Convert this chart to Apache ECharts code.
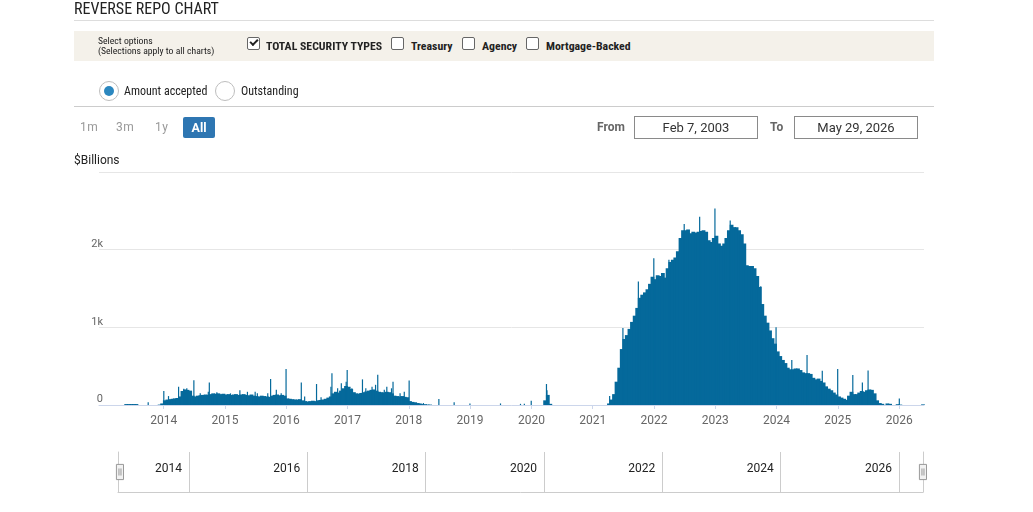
<!DOCTYPE html>
<html>
<head>
<meta charset="utf-8">
<title>Reverse Repo Chart</title>
<script src="https://cdn.jsdelivr.net/npm/echarts@6.0.0/dist/echarts.min.js"></script>
<style>
  html, body { margin: 0; padding: 0; background: #fff; }
  body { width: 1033px; height: 512px; position: relative; overflow: hidden;
         font-family: Roboto, "Liberation Sans", sans-serif; color: #222; }
  #chart { position: absolute; left: 0; top: 0; width: 1033px; height: 512px; }
  .abs { position: absolute; white-space: nowrap; z-index: 2; }
  .narrow { font-family: "Liberation Sans Narrow", "Roboto Condensed", "DejaVu Sans Condensed", sans-serif; }
  .rule { position: absolute; left: 74px; width: 860px; height: 1px; background: #d6d6d6; z-index: 2; }
  .cb { position: absolute; top: 37px; width: 11px; height: 11px; border: 1px solid #666;
        border-radius: 2px; background: #fff; z-index: 2; }
  .cb.on::after { content: ""; position: absolute; left: 2px; top: 1px; width: 6px; height: 3px;
        border-left: 2px solid #222; border-bottom: 2px solid #222; transform: rotate(-45deg); }
  .opt { top: 39px; font-size: 11.8px; line-height: 14px; font-weight: bold; color: #222; }
  .rd { position: absolute; top: 81px; width: 18px; height: 18px; border: 1px solid #bdbdbd;
        border-radius: 50%; background: #fff; z-index: 2; }
  .rd.on::after { content: ""; position: absolute; left: 4px; top: 4px; width: 10px; height: 10px;
        border-radius: 50%; background: #2b87bf; }
  .rlab { top: 84px; font-size: 12px; line-height: 14px; color: #222; }
  .rng { top: 120px; font-size: 12px; line-height: 14px; color: #999; letter-spacing: 0.5px; }
  .btn { left: 183px; top: 117px; width: 32px; height: 21px; line-height: 21px; text-align: center;
         background: #2e76b2; color: #fff; font-weight: bold; font-size: 12.5px; border-radius: 2px; }
  .lbl { top: 120px; font-size: 12px; line-height: 14px; font-weight: bold; color: #666; }
  .inp { top: 116px; width: 122px; height: 21px; line-height: 21px; border: 1px solid #8a8a8a;
         text-align: center; font-size: 13px; color: #333; background: #fff; }
</style>
</head>
<body>
<div id="chart"></div>

<div class="abs narrow" style="left:74px;top:0px;font-size:16px;line-height:18px;color:#222;">REVERSE REPO CHART</div>
<div class="rule" style="top:20px;background:#dddddd;"></div>
<div class="abs" style="left:74px;top:31px;width:860px;height:30px;background:#f4f1ea;z-index:1;"></div>
<div class="abs narrow" style="left:98px;top:36px;font-size:9.7px;line-height:10px;color:#222;">Select options<br>(Selections apply to all charts)</div>

<div class="cb on" style="left:247px;"></div>
<div class="abs narrow opt" style="left:266px;">TOTAL SECURITY TYPES</div>
<div class="cb" style="left:391px;"></div>
<div class="abs narrow opt" style="left:411px;">Treasury</div>
<div class="cb" style="left:462px;"></div>
<div class="abs narrow opt" style="left:482px;">Agency</div>
<div class="cb" style="left:526px;"></div>
<div class="abs narrow opt" style="left:546px;">Mortgage-Backed</div>

<div class="rd on" style="left:99px;"></div>
<div class="abs narrow rlab" style="left:124px;">Amount accepted</div>
<div class="rd" style="left:215px;"></div>
<div class="abs narrow rlab" style="left:241px;">Outstanding</div>
<div class="rule" style="top:106px;background:#cccccc;"></div>

<div class="abs rng" style="left:80px;">1m</div>
<div class="abs rng" style="left:116px;">3m</div>
<div class="abs rng" style="left:155px;">1y</div>
<div class="abs btn">All</div>
<div class="abs lbl" style="left:597px;">From</div>
<div class="abs inp" style="left:634px;">Feb 7, 2003</div>
<div class="abs lbl" style="left:770px;">To</div>
<div class="abs inp" style="left:794px;">May 29, 2026</div>
<div class="abs" style="left:74px;top:153px;font-size:12px;line-height:14px;color:#222;">$Billions</div>

<script>
// half-month levels ($B), two values per month (1st-15th, 16th-end)
const years = [2013, 2014, 2015, 2016, 2017, 2018, 2019, 2020, 2021, 2022, 2023, 2024, 2025, 2026];
const yr2013 = [0, 0, 0, 0, 0, 0, 0, 0, 0, 12, 12, 12, 12, 12, 0, 0, 0, 0, 0, 0, 0, 0, 5, 20];
const yr2014 = [60, 70, 75, 80, 85, 90, 110, 180, 200, 195, 185, 120, 110, 120, 125, 130, 135, 130, 140, 150, 145, 150, 140, 145];
const yr2015 = [135, 140, 130, 135, 140, 130, 135, 140, 130, 125, 135, 120, 115, 110, 120, 115, 110, 105, 120, 130, 135, 125, 130, 120];
const yr2016 = [85, 80, 75, 70, 70, 75, 60, 50, 45, 50, 55, 50, 60, 65, 70, 80, 95, 110, 150, 170, 160, 185, 215, 245];
const yr2017 = [235, 205, 165, 150, 145, 155, 165, 175, 185, 195, 200, 185, 170, 165, 160, 170, 165, 150, 120, 115, 110, 115, 105, 100];
const yr2018 = [50, 40, 35, 25, 20, 12, 10, 6, 5, 0, 0, 0, 0, 0, 0, 0, 0, 0, 0, 0, 0, 0, 0, 0];
const yr2019 = [0, 0, 0, 0, 0, 0, 0, 0, 0, 0, 0, 0, 0, 0, 0, 0, 0, 0, 0, 0, 0, 0, 0, 0];
const yr2020 = [0, 0, 0, 0, 0, 60, 130, 15, 0, 0, 0, 0, 0, 0, 0, 0, 0, 0, 0, 0, 0, 0, 0, 0];
const yr2021 = [0, 0, 0, 0, 0, 0, 20, 70, 140, 300, 480, 720, 850, 900, 980, 1070, 1150, 1250, 1380, 1420, 1450, 1490, 1560, 1650];
const yr2022 = [1620, 1670, 1660, 1700, 1640, 1760, 1840, 1870, 1900, 1980, 2150, 2250, 2250, 2260, 2210, 2230, 2220, 2230, 2240, 2250, 2230, 2120, 2100, 2150];
const yr2023 = [2180, 2080, 2050, 2080, 2150, 2250, 2320, 2290, 2290, 2250, 2200, 2080, 1800, 1790, 1790, 1760, 1660, 1520, 1300, 1150, 1060, 960, 860, 790];
const yr2024 = [690, 630, 580, 540, 480, 460, 460, 470, 470, 450, 420, 410, 410, 400, 350, 330, 340, 310, 290, 240, 210, 190, 160, 135];
const yr2025 = [110, 95, 80, 65, 120, 170, 140, 140, 160, 180, 170, 190, 200, 195, 150, 60, 25, 15, 0, 20, 15, 0, 0, 10];
const yr2026 = [5, 0, 0, 0, 0, 0, 0, 0, 0, 8];
const levels = [yr2013, yr2014, yr2015, yr2016, yr2017, yr2018, yr2019, yr2020, yr2021, yr2022, yr2023, yr2024, yr2025, yr2026];

// single-day peaks (quarter ends and other visible spikes)
const spikeDates = [
  '2013-10-01', '2014-01-02', '2014-01-30', '2014-03-31', '2014-05-01', '2014-05-19',
  '2014-06-30', '2014-08-07', '2014-09-24', '2014-09-30', '2014-11-14',
  '2015-02-03', '2015-03-31', '2015-05-15', '2015-06-30', '2015-07-13', '2015-09-13',
  '2015-09-30', '2015-11-03', '2015-12-02', '2015-12-31',
  '2016-03-31', '2016-04-20', '2016-06-30', '2016-07-27', '2016-09-24', '2016-09-30',
  '2016-11-03', '2016-11-25', '2016-12-24', '2016-12-30',
  '2017-01-27', '2017-03-31', '2017-04-20', '2017-05-27', '2017-06-17', '2017-06-30',
  '2017-08-08', '2017-08-23', '2017-09-20', '2017-09-29', '2017-11-10', '2017-12-05', '2018-01-03',
  '2018-03-29', '2018-06-29', '2018-09-28', '2018-12-31',
  '2019-07-01', '2019-10-28', '2019-11-20', '2019-12-31',
  '2020-03-31', '2020-04-03',
  '2021-04-12', '2021-06-30', '2021-09-30', '2021-12-31',
  '2022-03-31', '2022-06-30', '2022-09-30', '2022-12-30',
  '2023-03-31', '2023-09-29', '2023-12-29',
  '2024-04-01', '2024-07-01', '2024-09-30', '2024-12-31',
  '2025-03-31', '2025-05-27', '2025-06-30', '2026-01-02'
];
const spikeValues = [
  35, 180, 115, 235, 210, 215,
  320, 150, 170, 290, 165,
  150, 190, 170, 170, 150, 150,
  335, 195, 150, 465,
  290, 110, 270, 100, 235, 410,
  215, 280, 300, 450,
  215, 330, 215, 235, 260, 390,
  195, 235, 215, 300, 150, 170, 315,
  25, 77, 35, 20,
  20, 15, 15, 55,
  270, 190,
  115, 990, 1590, 1890,
  1870, 2330, 2425, 2530,
  2375, 1530, 1000,
  580, 645, 440, 465,
  385, 290, 445, 85
];

const yearTicks = [2014, 2015, 2016, 2017, 2018, 2019, 2020, 2021, 2022, 2023, 2024, 2025, 2026];
const navTicks = [2014, 2016, 2018, 2020, 2022, 2024, 2026];
const yTicks = ['0', '1k', '2k', ''];
const mainRange = ['2012-12-12', '2026-05-29'];
const navRange = ['2012-10-20', '2026-05-29'];

const barColor = '#05699b';

// date string -> fractional year, so the x axis can be a plain value axis
function decYear(s) {
  const p = s.split('-').map(Number);
  const t0 = Date.UTC(p[0], 0, 1);
  const t1 = Date.UTC(p[0] + 1, 0, 1);
  return p[0] + (Date.UTC(p[0], p[1] - 1, p[2]) - t0) / (t1 - t0);
}

const levelData = [];
years.forEach(function (y, i) {
  levels[i].forEach(function (v, k) {
    const m = Math.floor(k / 2) + 1;
    const d = k % 2 ? '23' : '08';
    levelData.push([decYear(y + '-' + m + '-' + d), v]);
  });
});
const spikeData = spikeDates.map(function (d, i) { return [decYear(d), spikeValues[i]]; });

const yearLabel = function (v) { return String(Math.round(v)); };

const chart = echarts.init(document.getElementById('chart'));

const mainX = {
  type: 'value',
  gridIndex: 0,
  min: decYear(mainRange[0]),
  max: decYear(mainRange[1]),
  axisLine: { lineStyle: { color: '#ccd6eb' } },
  axisTick: { show: true, length: 4, lineStyle: { color: '#ccd6eb' }, customValues: yearTicks },
  axisLabel: {
    customValues: yearTicks,
    formatter: yearLabel,
    color: '#666',
    fontSize: 12,
    fontFamily: 'Roboto',
    margin: 10
  },
  splitLine: { show: false }
};

const option = {
  animation: false,
  grid: [
    { left: 99, right: 109, top: 172, bottom: 107 },
    { left: 118, width: 805, top: 452, height: 40 }
  ],
  xAxis: [
    mainX,
    {
      type: 'value',
      gridIndex: 1,
      min: decYear(navRange[0]),
      max: decYear(navRange[1]),
      axisLine: { lineStyle: { color: '#cccccc' } },
      axisTick: { show: false, customValues: navTicks },
      axisLabel: {
        customValues: navTicks,
        formatter: yearLabel,
        inside: true,
        margin: 23,
        align: 'right',
        verticalAlign: 'middle',
        padding: [0, 7, 0, 0],
        color: '#222',
        fontSize: 12,
        fontFamily: 'Roboto'
      },
      splitLine: { show: true, lineStyle: { color: '#cccccc' } }
    },
    Object.assign({}, mainX, { show: false })
  ],
  yAxis: [
    {
      type: 'value',
      gridIndex: 0,
      min: 0,
      max: 3000,
      interval: 1000,
      axisLine: { show: false },
      axisTick: { show: false },
      splitLine: { lineStyle: { color: '#e6e6e6' } },
      axisLabel: {
        formatter: function (v) { return yTicks[v / 1000]; },
        color: '#666',
        fontSize: 11,
        fontFamily: 'Roboto',
        margin: -4,
        verticalAlign: 'bottom',
        padding: 0
      }
    },
    {
      type: 'value', gridIndex: 1, min: 0, max: 1, position: 'left',
      axisLine: { show: true, lineStyle: { color: '#cccccc' } },
      axisTick: { show: false }, axisLabel: { show: false }, splitLine: { show: false }
    },
    {
      type: 'value', gridIndex: 1, min: 0, max: 1, position: 'right',
      axisLine: { show: true, lineStyle: { color: '#cccccc' } },
      axisTick: { show: false }, axisLabel: { show: false }, splitLine: { show: false }
    }
  ],
  dataZoom: [{
    type: 'slider',
    xAxisIndex: [0, 2],
    filterMode: 'none',
    start: 0,
    end: 100,
    left: 118,
    width: 805,
    top: 452,
    height: 40,
    showDataShadow: false,
    showDetail: false,
    brushSelect: false,
    backgroundColor: 'rgba(0,0,0,0)',
    borderColor: 'rgba(0,0,0,0)',
    fillerColor: 'rgba(0,0,0,0)',
    dataBackground: { lineStyle: { opacity: 0 }, areaStyle: { opacity: 0 } },
    selectedDataBackground: { lineStyle: { opacity: 0 }, areaStyle: { opacity: 0 } },
    handleIcon: 'path://M0,0h7v15h-7zM2.5,4v7M4.5,4v7',
    handleSize: '38%',
    handleStyle: { color: '#f2f2f2', borderColor: '#999999', borderWidth: 1 },
    moveHandleSize: 0,
    moveHandleStyle: { opacity: 0 }
  }],
  series: [
    {
      name: 'Amount accepted',
      type: 'bar',
      xAxisIndex: 0,
      yAxisIndex: 0,
      data: levelData,
      barWidth: 3.8,
      itemStyle: { color: barColor },
      silent: true
    },
    {
      name: 'Peaks',
      type: 'bar',
      xAxisIndex: 2,
      yAxisIndex: 0,
      data: spikeData,
      barWidth: 1.2,
      itemStyle: { color: barColor },
      silent: true
    }
  ]
};

chart.setOption(option);
</script>
</body>
</html>
